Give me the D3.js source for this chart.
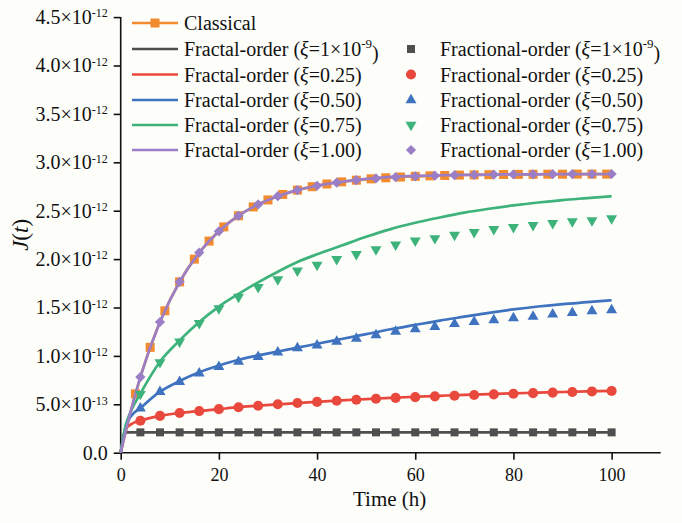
<!DOCTYPE html>
<html>
<head>
<meta charset="utf-8">
<script src="https://cdn.jsdelivr.net/npm/d3@7"></script>
<style>
  body { margin: 0; background: #fdfdfa; }
  svg text { font-family: "Liberation Serif", "Times New Roman", serif; fill: #111; }
</style>
</head>
<body>
<svg id="chart" width="682" height="523"></svg>
<script>
// Creep compliance J(t), values in units of 1e-12
const unit = 1e-12;

// Classical model (line + square markers every 3 h)
const classicalT = [0,3,6,9,12,15,18,21,24,27,30,33,36,39,42,45,48,51,54,57,60,63,66,69,72,75,78,81,84,87,90,93,96,99];
const classicalJ = [0,0.608,1.088,1.466,1.765,2.000,2.186,2.333,2.448,2.539,2.611,2.668,2.713,2.748,2.776,2.798,2.815,2.829,2.840,2.848,2.855,2.860,2.864,2.868,2.870,2.872,2.874,2.875,2.876,2.877,2.877,2.878,2.878,2.878];

// Fractal-order curves (lines)
const fractalNames = ["1\u00d710", "0.25", "0.50", "0.75", "1.00"];
const lineT = [0,1,2,4,8,12,16,20,24,28,32,36,40,45,50,55,60,65,70,75,80,85,90,95,100];
const fractalGray   = [0,0.21,0.21,0.21,0.21,0.21,0.21,0.21,0.21,0.21,0.21,0.21,0.21,0.21,0.21,0.21,0.21,0.21,0.21,0.21,0.21,0.21,0.21,0.21,0.21];
const fractalRed    = [0,0.24,0.29,0.33,0.38,0.41,0.43,0.45,0.47,0.485,0.50,0.513,0.525,0.541,0.554,0.567,0.578,0.588,0.598,0.606,0.613,0.620,0.627,0.633,0.638];
const fractalBlue   = [0,0.27,0.37,0.46,0.63,0.74,0.83,0.90,0.96,1.005,1.045,1.085,1.125,1.175,1.225,1.275,1.32,1.365,1.405,1.445,1.48,1.51,1.535,1.555,1.575];
const fractalGreen  = [0,0.28,0.42,0.61,0.94,1.16,1.35,1.51,1.64,1.76,1.87,1.97,2.05,2.14,2.23,2.31,2.375,2.43,2.48,2.52,2.555,2.585,2.61,2.63,2.65];
const fractalPurple = [0,0.22,0.42,0.781,1.350,1.765,2.067,2.287,2.448,2.565,2.650,2.713,2.758,2.798,2.829,2.849,2.860,2.866,2.870,2.873,2.875,2.876,2.877,2.878,2.879];

// Fractional-order results (markers every 4 h)
const markerT = [4,8,12,16,20,24,28,32,36,40,44,48,52,56,60,64,68,72,76,80,84,88,92,96,100];
const fracGray   = [0.21,0.21,0.21,0.21,0.21,0.21,0.21,0.21,0.21,0.21,0.21,0.21,0.21,0.21,0.21,0.21,0.21,0.21,0.21,0.21,0.21,0.21,0.21,0.21,0.21];
const fracRed    = [0.33,0.38,0.41,0.43,0.45,0.47,0.485,0.50,0.513,0.525,0.537,0.547,0.557,0.566,0.574,0.582,0.589,0.596,0.603,0.609,0.615,0.621,0.627,0.633,0.638];
const fracBlue   = [0.459,0.63,0.733,0.82,0.888,0.94,0.99,1.037,1.08,1.11,1.147,1.18,1.216,1.25,1.278,1.30,1.33,1.353,1.37,1.39,1.405,1.43,1.446,1.464,1.474];
const fracGreen  = [0.606,0.934,1.147,1.337,1.49,1.61,1.71,1.79,1.88,1.94,2.00,2.05,2.10,2.15,2.19,2.215,2.25,2.277,2.31,2.33,2.35,2.37,2.39,2.40,2.42];
const fracPurple = [0.781,1.350,1.765,2.067,2.287,2.448,2.565,2.650,2.713,2.758,2.791,2.815,2.833,2.846,2.855,2.862,2.867,2.870,2.873,2.875,2.876,2.877,2.878,2.878,2.879];

// Axis ticks
const xMajor = [0,20,40,60,80,100];
const xMinor = [10,30,50,70,90,110];
const yMajor = [0,0.5,1.0,1.5,2.0,2.5,3.0,3.5,4.0,4.5];
const yMinor = [0.25,0.75,1.25,1.75,2.25,2.75,3.25,3.75,4.25];
const yMantissa = ["0.0","5.0","1.0","1.5","2.0","2.5","3.0","3.5","4.0","4.5"];
const yExponent = ["","-13","-12","-12","-12","-12","-12","-12","-12","-12"];

const colors = {
  orange: "#f28a2e", gray: "#4f4f4f", red: "#e9483c",
  blue: "#3f73c0", green: "#3db37b", purple: "#9b7fc6"
};

const svg = d3.select("#chart");
const x = d3.scaleLinear().domain([0, 110]).range([120.7, 660.7]);
const y = d3.scaleLinear().domain([0, 4.5 * unit]).range([452.7, 17.1]);

// ---- axes ----
const xAxisG = svg.append("g").attr("transform", `translate(0,${y(0)})`);
xAxisG.call(d3.axisBottom(x).tickValues(xMinor).tickSize(4).tickFormat(""));
xAxisG.call(d3.axisBottom(x).tickValues(xMajor).tickSize(7).tickPadding(9).tickFormat(d3.format("d")));
xAxisG.selectAll(".domain").attr("d", `M${x(0)},0H${x(110)}`);

const yAxisG = svg.append("g").attr("transform", `translate(${x(0)},0)`);
yAxisG.call(d3.axisLeft(y).tickValues(yMinor.map(v => v * unit)).tickSize(4).tickFormat(""));
yAxisG.call(d3.axisLeft(y).tickValues(yMajor.map(v => v * unit)).tickSize(7).tickPadding(5).tickFormat(""));
yAxisG.selectAll(".domain").attr("d", `M0,${y(0)}V${y(4.5 * unit)}`);

[xAxisG, yAxisG].forEach(g => {
  g.selectAll(".domain").attr("stroke", "#111").attr("stroke-width", 1.6);
  g.selectAll(".tick line").attr("stroke", "#111").attr("stroke-width", 1.6);
});
xAxisG.selectAll(".tick text").attr("font-size", 18).attr("fill", "#111")
  .attr("font-family", "Liberation Serif, serif");

// y tick labels with superscript powers of ten
yAxisG.selectAll(".tick").each(function(d) {
  const idx = yMajor.findIndex(v => Math.abs(v * unit - d) < 1e-20);
  if (idx < 0) return;
  const t = d3.select(this).select("text")
    .attr("font-size", 20).attr("fill", "#111")
    .attr("font-family", "Liberation Serif, serif")
    .attr("x", -13).attr("dy", "0.32em");
  t.text(null);
  if (yExponent[idx] === "") {
    t.append("tspan").text(yMantissa[idx]);
  } else {
    t.append("tspan").text(yMantissa[idx] + "\u00d710");
    t.append("tspan").attr("font-size", 12).attr("dy", "-0.55em").text(yExponent[idx]);
  }
});

// axis titles
svg.append("text").attr("x", x(55) - 1).attr("y", 506).attr("text-anchor", "middle")
  .attr("font-size", 21).text("Time (h)");
const yl = svg.append("text").attr("transform", `translate(28,${y(2.25 * unit)}) rotate(-90)`)
  .attr("text-anchor", "middle").attr("font-size", 23).attr("font-style", "italic");
yl.append("tspan").text("J");
yl.append("tspan").attr("font-style", "normal").text("(");
yl.append("tspan").text("t");
yl.append("tspan").attr("font-style", "normal").text(")");

// ---- series ----
const line = d3.line().x(d => x(d[0])).y(d => y(d[1] * unit)).curve(d3.curveMonotoneX);
const plot = svg.append("g");

function drawLine(ts, vs, color) {
  plot.append("path").datum(ts.map((t, i) => [t, vs[i]]))
    .attr("d", line).attr("fill", "none").attr("stroke", color)
    .attr("stroke-width", 2.7).attr("stroke-linejoin", "round");
}
function drawMarkers(ts, vs, color, symbol, size, rotate) {
  plot.append("g").selectAll("path").data(ts.map((t, i) => [t, vs[i]])).join("path")
    .attr("d", d3.symbol(symbol, size))
    .attr("transform", d => `translate(${x(d[0])},${y(d[1] * unit)}) rotate(${rotate})`)
    .attr("fill", color);
}

// classical
drawLine(classicalT, classicalJ, colors.orange);
drawMarkers(classicalT.slice(1), classicalJ.slice(1), colors.orange, d3.symbolSquare, 81, 0);

// fractal-order lines
drawLine(lineT, fractalGray, colors.gray);
drawLine(lineT, fractalRed, colors.red);
drawLine(lineT, fractalBlue, colors.blue);
drawLine(lineT, fractalGreen, colors.green);
drawLine(lineT, fractalPurple, colors.purple);

// fractional-order markers
drawMarkers(markerT, fracGray, colors.gray, d3.symbolSquare, 64, 0);
drawMarkers(markerT, fracRed, colors.red, d3.symbolCircle, 80, 0);
drawMarkers(markerT, fracBlue, colors.blue, d3.symbolTriangle, 52, 0);
drawMarkers(markerT, fracGreen, colors.green, d3.symbolTriangle, 52, 180);
drawMarkers(markerT, fracPurple, colors.purple, d3.symbolSquare, 52, 45);

// ---- legend ----
const legend = svg.append("g");
const lx0 = 132, lx1 = 178, ltx = 184;
const leftRows = [23, 49, 74.5, 100, 125, 150];
const leftColors = [colors.orange, colors.gray, colors.red, colors.blue, colors.green, colors.purple];
const rightColors = [colors.gray, colors.red, colors.blue, colors.green, colors.purple];
const rightSymbols = [[d3.symbolSquare, 64, 0], [d3.symbolCircle, 80, 0], [d3.symbolTriangle, 52, 0], [d3.symbolTriangle, 52, 180], [d3.symbolSquare, 52, 45]];
const legendFont = 20;

function labelText(g, xPos, yPos, prefix, name, sup) {
  const t = g.append("text").attr("x", xPos).attr("y", yPos).attr("dy", "0.35em").attr("font-size", legendFont);
  t.append("tspan").text(prefix + " (");
  t.append("tspan").attr("font-style", "italic").text("\u03be");
  t.append("tspan").text("=" + name);
  if (sup) {
    t.append("tspan").attr("font-size", 13).attr("dy", "-0.6em").text(sup);
    t.append("tspan").attr("dy", "0.6em").text(")");
  } else {
    t.append("tspan").text(")");
  }
}

leftRows.forEach((ry, i) => {
  legend.append("line").attr("x1", lx0).attr("x2", lx1).attr("y1", ry).attr("y2", ry)
    .attr("stroke", leftColors[i]).attr("stroke-width", 2.7);
});
legend.append("path").attr("d", d3.symbol(d3.symbolSquare, 81))
  .attr("transform", `translate(${(lx0 + lx1) / 2},${leftRows[0]})`).attr("fill", colors.orange);
legend.append("text").attr("x", ltx).attr("y", leftRows[0]).attr("dy", "0.35em")
  .attr("font-size", legendFont).text("Classical");
fractalNames.forEach((n, i) => {
  labelText(legend, ltx, leftRows[i + 1], "Fractal-order", n, i === 0 ? "-9" : null);
});

const rmx = 411, rtx = 440;
fractalNames.forEach((n, i) => {
  const ry = leftRows[i + 1];
  const s = rightSymbols[i];
  legend.append("path").attr("d", d3.symbol(s[0], s[1]))
    .attr("transform", `translate(${rmx},${ry}) rotate(${s[2]})`).attr("fill", rightColors[i]);
  labelText(legend, rtx, ry, "Fractional-order", n, i === 0 ? "-9" : null);
});
</script>
</body>
</html>
